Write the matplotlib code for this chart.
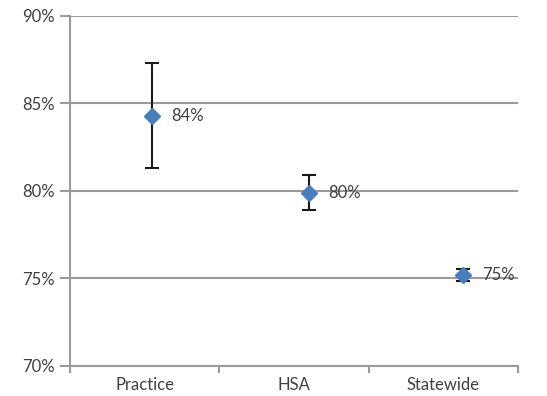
import numpy as np
import matplotlib.pyplot as plt

plt.rcParams['font.family'] = ['Lato', 'DejaVu Sans']

categories = ['Practice', 'HSA', 'Statewide']
rates = [84.3, 79.9, 75.2]
errors = [3.0, 1.0, 0.35]
labels = ['84%', '80%', '75%']
marker_x = [0.55, 1.6, 2.63]

fig = plt.figure(figsize=(5.47, 3.96), dpi=100)
ax = fig.add_axes([0.128, 0.076, 0.819, 0.884])

grid_c = '#9a9a9a'
text_c = '#404040'

ax.errorbar(marker_x, rates, yerr=errors, fmt='D', color='#4a7ebb', markersize=8,
            ecolor='#1a1a1a', elinewidth=1.5, capsize=5, capthick=1.5, zorder=3)
for x, y, lab in zip(marker_x, rates, labels):
    ax.annotate(lab, (x, y), xytext=(14, 0), textcoords='offset points',
                va='center', ha='left', fontsize=12, color=text_c, zorder=4)

ax.set_xlim(0, 3)
ax.set_ylim(70, 90)
ax.set_yticks([70, 75, 80, 85, 90])
ax.set_yticklabels(['70%', '75%', '80%', '85%', '90%'], fontsize=12, color=text_c)
ax.yaxis.grid(True, color=grid_c, linewidth=1.5)
ax.set_axisbelow(True)

ax.set_xticks([0, 1, 2, 3])
ax.set_xticklabels([])
ax.set_xticks(np.arange(len(categories)) + 0.5, minor=True)
ax.set_xticklabels(categories, minor=True, fontsize=12, color=text_c)
ax.tick_params(axis='x', which='major', direction='out', length=5, width=1.5, color=grid_c)
ax.tick_params(axis='x', which='minor', length=0, pad=8)
ax.tick_params(axis='y', direction='out', length=7, width=1.5, color=grid_c, pad=4)

for side in ['top', 'right']:
    ax.spines[side].set_visible(False)
for side in ['left', 'bottom']:
    ax.spines[side].set_color(grid_c)
    ax.spines[side].set_linewidth(1.5)

fig.savefig('out.png', dpi=100)
